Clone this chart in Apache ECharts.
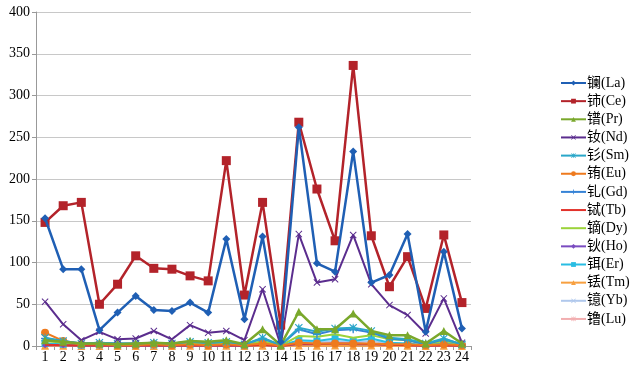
<!DOCTYPE html>
<html>
<head>
<meta charset="utf-8">
<script src="https://cdn.jsdelivr.net/npm/echarts@6/dist/echarts.min.js"></script>
<style>
  html, body { margin: 0; padding: 0; background: #fff; }
  #echart { width: 632px; height: 367px; }
</style>
</head>
<body>
<div id="echart"></div>
<script>
// sample numbers 1..24
const categories = ["1","2","3","4","5","6","7","8","9","10","11","12","13","14","15","16","17","18","19","20","21","22","23","24"];
const yTicks = [0, 400, 50]; // min, max, interval

// values per element
const La = [153, 92, 92, 19, 40, 60, 43, 42, 52, 40, 128, 32, 131, 5, 262, 99, 89, 233, 76, 85, 134, 17, 113, 21];
const Ce = [148, 168, 172, 50, 74, 108, 93, 92, 84, 78, 222, 61, 172, 25, 268, 188, 126, 336, 132, 71, 107, 45, 133, 52];
const Pr = [7, 5, 3, 3, 2, 3, 4, 3, 6, 5, 7, 2, 20, 1, 41, 20, 20, 39, 18, 13, 13, 3, 18, 3];
const Nd = [53, 26, 7, 17, 8, 9, 18, 8, 25, 16, 18, 7, 68, 1, 134, 76, 80, 133, 74, 49, 37, 15, 57, 4];
const Sm = [10, 6, 3, 4, 3, 3, 4, 3, 5, 4, 5, 2, 10, 1, 22, 17, 21, 22, 18, 10, 8, 3, 9, 2];
const Eu = [16, 6, 2, 2, 1, 1, 2, 1, 2, 1, 2, 1, 3, 0.5, 4, 3, 3, 3, 3, 2, 2, 1, 2, 1];
const Gd = [9, 6, 3, 4, 3, 3, 4, 3, 5, 4, 5, 2, 9, 1, 20, 14, 19, 20, 16, 9, 7, 2, 8, 2];
const Tb = [1.5, 1, 0.5, 0.5, 0.5, 0.5, 0.5, 0.5, 1, 0.5, 1, 0.3, 1.5, 0.1, 3, 2.5, 3, 3, 2.5, 1.5, 1, 0.3, 1, 0.3];
const Dy = [6, 4, 2, 2, 2, 2, 2, 2, 3, 2, 3, 1, 6, 0.5, 12, 11, 14, 10, 13, 8, 7, 2, 6, 2];
const Ho = [1, 0.8, 0.4, 0.4, 0.4, 0.4, 0.4, 0.4, 0.6, 0.4, 0.6, 0.2, 1.2, 0.1, 2.5, 2, 3, 2, 2.5, 1.5, 1.2, 0.3, 1, 0.3];
const Er = [3, 2, 1, 1.5, 1, 1, 1.5, 1, 2, 1, 2, 0.5, 4, 0.3, 7, 6, 9, 6, 9, 4, 3, 1, 4, 1];
const Tm = [0.3, 0.2, 0.1, 0.1, 0.1, 0.1, 0.1, 0.1, 0.2, 0.1, 0.2, 0.1, 0.3, 0, 0.5, 0.4, 0.5, 0.4, 0.5, 0.3, 0.2, 0.1, 0.2, 0.1];
const Yb = [2.5, 1.5, 1, 1, 1, 1, 1, 1, 1.5, 1, 1.5, 0.5, 3, 0.2, 5, 4.5, 6, 4.5, 6, 3, 2.5, 0.8, 3, 0.8];
const Lu = [0.4, 0.3, 0.1, 0.1, 0.1, 0.1, 0.1, 0.1, 0.2, 0.1, 0.2, 0.1, 0.4, 0, 0.8, 0.7, 0.9, 0.7, 0.9, 0.5, 0.4, 0.1, 0.4, 0.1];

const names = ["镧(La)", "铈(Ce)", "镨(Pr)", "钕(Nd)", "钐(Sm)", "铕(Eu)", "钆(Gd)", "铽(Tb)", "镝(Dy)", "钬(Ho)", "铒(Er)", "铥(Tm)", "镱(Yb)", "镥(Lu)"];

const X = "path://M0,1L1,0L5,4L9,0L10,1L6,5L10,9L9,10L5,6L1,10L0,9L4,5Z";
const STAR = "path://M0,1L1,0L5,4L9,0L10,1L6,5L10,9L9,10L5,6L1,10L0,9L4,5ZM4.4,0H5.6V10H4.4Z";
const PLUS = "path://M4.2,0H5.8V4.2H10V5.8H5.8V10H4.2V5.8H0V4.2H4.2Z";

const styles = [
  { data: La, color: "#1f5fb4", symbol: "diamond", size: 8, width: 2.5 },
  { data: Ce, color: "#b3232a", symbol: "rect", size: 9, width: 2.5 },
  { data: Pr, color: "#7aa82c", symbol: "triangle", size: 8, width: 2.5 },
  { data: Nd, color: "#5b2d8e", symbol: X, size: 7, width: 2 },
  { data: Sm, color: "#2aa7c9", symbol: STAR, size: 8, width: 2 },
  { data: Eu, color: "#ee7a1e", symbol: "circle", size: 8, width: 2 },
  { data: Gd, color: "#3683d6", symbol: PLUS, size: 8, width: 2 },
  { data: Tb, color: "#e2322b", symbol: "none", size: 0, width: 2 },
  { data: Dy, color: "#9bd33a", symbol: "none", size: 0, width: 2 },
  { data: Ho, color: "#7a4cc0", symbol: "diamond", size: 6, width: 2 },
  { data: Er, color: "#29bde3", symbol: "rect", size: 7, width: 2 },
  { data: Tm, color: "#f7a040", symbol: "triangle", size: 8, width: 2 },
  { data: Yb, color: "#b0c8ec", symbol: X, size: 7, width: 2 },
  { data: Lu, color: "#f2aeb0", symbol: STAR, size: 7, width: 2 }
];

const serif = "'Liberation Serif', 'Times New Roman', 'Noto Sans CJK SC'";

const chart = echarts.init(document.getElementById("echart"));
chart.setOption({
  animation: false,
  textStyle: { fontFamily: serif },
  grid: { left: 36, right: 161, top: 12, bottom: 21 },
  legend: {
    orient: "vertical",
    left: 560,
    top: 76,
    padding: 0,
    itemWidth: 25,
    itemHeight: 6,
    itemGap: 4.15,
    textStyle: { fontFamily: serif, fontSize: 14, color: "#000", padding: [0, 0, 0, -4] },
    data: names.map((n, i) => styles[i].symbol === "none"
      ? { name: n, itemStyle: { opacity: 0 } }
      : { name: n })
  },
  xAxis: {
    type: "category",
    data: categories,
    boundaryGap: true,
    axisLine: { lineStyle: { color: "#999" } },
    axisTick: { show: true, length: 4, lineStyle: { color: "#999" } },
    axisLabel: { color: "#000", fontSize: 14, margin: 4, interval: 0 }
  },
  yAxis: {
    type: "value",
    min: yTicks[0],
    max: yTicks[1],
    interval: yTicks[2],
    axisLine: { show: true, lineStyle: { color: "#999" } },
    axisTick: { show: true, length: 4, lineStyle: { color: "#999" } },
    axisLabel: { color: "#000", fontSize: 14, margin: 6 },
    splitLine: { lineStyle: { color: "#c8c8c8", width: 1 } }
  },
  series: styles.map((s, i) => ({
    name: names[i],
    type: "line",
    data: s.data,
    symbol: s.symbol,
    symbolSize: s.size,
    showSymbol: s.symbol !== "none",
    color: s.color,
    lineStyle: { color: s.color, width: s.width },
    itemStyle: { color: s.color },
    z: 20 - i
  }))
});
</script>
</body>
</html>
